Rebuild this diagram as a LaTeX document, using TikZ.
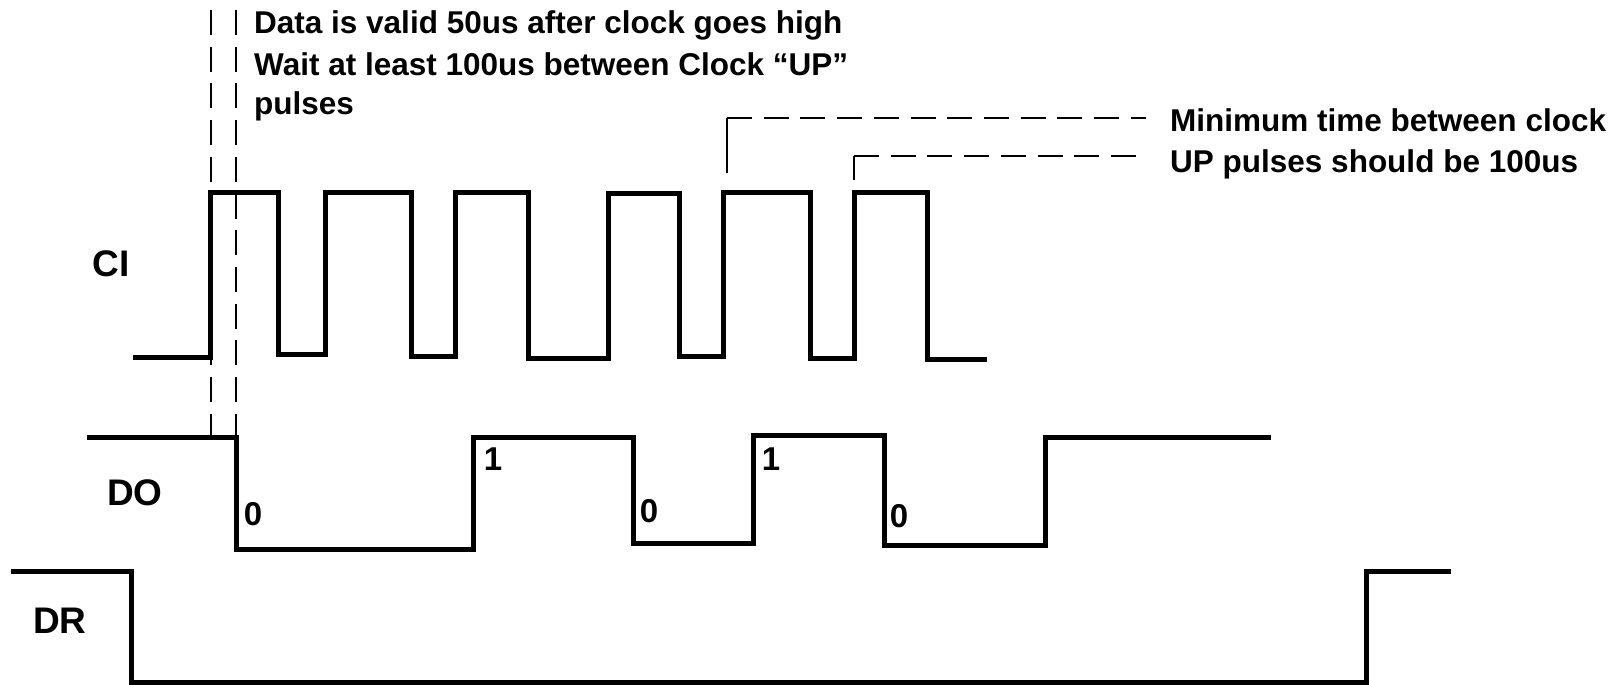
\documentclass[tikz,border=0pt]{standalone}
\usepackage{fontspec}
\setmainfont{Liberation Sans}
\begin{document}
\begin{tikzpicture}[x=1pt,y=-1pt,
  sig/.style={line width=5pt, line join=miter},
  guide/.style={line width=2.2pt, dash pattern=on 25pt off 11.7pt},
  guidesolid/.style={line width=2.2pt},
  note/.style={font=\fontsize{31.5}{38}\selectfont\bfseries, inner sep=0pt, anchor=base west},
  siglabel/.style={font=\fontsize{37}{40}\selectfont\bfseries, inner sep=0pt},
  bitlabel/.style={font=\fontsize{33}{36}\selectfont\bfseries, inner sep=0pt}]
\useasboundingbox (0,0) rectangle (1617,685);

% texts
\node[note] (t1) at (254,34) {Data is valid 50us after clock goes high};
\node[note] (t2) at (254,75) {Wait at least 100us between Clock “UP”};
\node[note] (t3) at (254,114) {pulses};
\node[note] (m1) at (1170,131) {Minimum time between clock};
\node[note] (m2) at (1170,172) {UP pulses should be 100us};

\node[siglabel] (ci) at (111,264) {CI};
\node[siglabel] (do) at (135,493) {DO};
\node[siglabel] (dr) at (60,621) {DR};

\node[bitlabel] (b0a) at (253,514) {0};
\node[bitlabel] (b1a) at (493,459) {1};
\node[bitlabel] (b0b) at (649,511) {0};
\node[bitlabel] (b1b) at (771,459) {1};
\node[bitlabel] (b0c) at (899,516) {0};

% guide lines
\draw[guide] (211,10) -- (211,437);
\draw[guide] (236,10) -- (236,437);

\coordinate (ga) at (727,173);
\coordinate (gb) at (854,180);
\coordinate (gae) at (1146,118);
\coordinate (gbe) at (1146,156);
\draw[guidesolid] (ga) -- (ga |- gae);
\draw[guide] (ga |- gae) -- (gae);
\draw[guidesolid] (gb) -- (gb |- gbe);
\draw[guide] (gb |- gbe) -- (gbe);

% CI
\draw[sig] (133,357) -- (210,357) -- (210,192) -- (278,192) -- (278,354) -- (325,354)
  -- (325,192) -- (411,192) -- (411,356) -- (455,356) -- (455,192) -- (528,192)
  -- (528,358) -- (608,358) -- (608,193) -- (679,193) -- (679,356) -- (723,356)
  -- (723,192) -- (810,192) -- (810,358) -- (854,358) -- (854,192) -- (927,192)
  -- (927,359) -- (987,359);

% DO
\draw[sig] (87,437) -- (236,437) -- (236,549) -- (473,549) -- (473,437) -- (633,437)
  -- (633,543) -- (753,543) -- (753,435) -- (884,435) -- (884,545) -- (1045,545)
  -- (1045,437) -- (1271,437);

% DR
\draw[sig] (11,571) -- (131,571) -- (131,682) -- (1366,682) -- (1366,571) -- (1451,571);
\end{tikzpicture}
\end{document}
